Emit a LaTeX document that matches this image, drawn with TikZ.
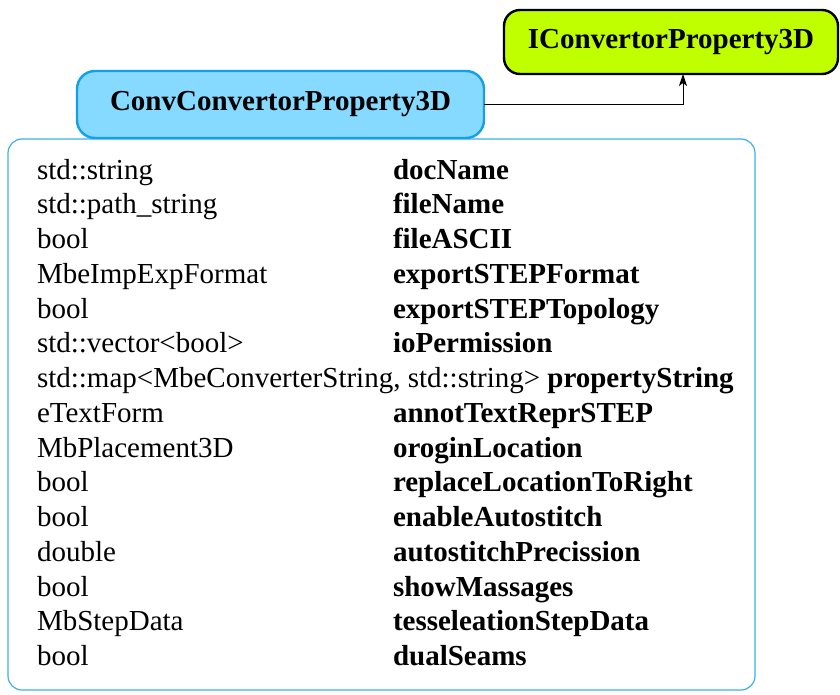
\documentclass[tikz,border=0pt]{standalone}
\usepackage{fontspec}
\setmainfont{Liberation Serif}
\usetikzlibrary{arrows.meta}
\definecolor{convfill}{RGB}{135,218,255}
\definecolor{convline}{RGB}{20,160,230}
\definecolor{ifill}{RGB}{191,255,0}
\definecolor{bodyline}{RGB}{60,176,232}
\begin{document}
\begin{tikzpicture}[x=1pt,y=-1pt,
  every node/.style={inner sep=0pt,outer sep=0pt,font=\fontsize{29}{34.75}\selectfont},
  classbox/.style={draw=convline,fill=convfill,line width=2.4pt,rounded corners=18pt,
    minimum width=407pt,minimum height=67pt,font=\fontsize{29}{34.75}\selectfont\bfseries},
  ifacebox/.style={draw=black,fill=ifill,line width=2.4pt,rounded corners=16pt,
    minimum width=334pt,minimum height=64pt,font=\fontsize{29}{34.75}\selectfont\bfseries},
  bodybox/.style={draw=bodyline,line width=1.2pt,rounded corners=14pt,
    minimum width=747pt,minimum height=551pt},
  typ/.style={anchor=base west},
  fld/.style={anchor=base west,font=\fontsize{29}{34.75}\selectfont\bfseries},
  link/.style={draw=black,line width=0.9pt,-{Stealth[length=12pt,width=8pt,inset=3pt]}}]
\useasboundingbox (0,0) rectangle (840,695);
\node[bodybox] (body) at (381.5,414.5) {};
\node[classbox] (conv) at (280.5,104.5) {ConvConvertorProperty3D};
\node[ifacebox] (iconv) at (671,42) {IConvertorProperty3D};
\draw[link] (conv.east) -| ([xshift=12pt]iconv.south);
\foreach \t/\f [count=\i from 0] in {
  std::string/docName,
  std::path\_string/fileName,
  bool/fileASCII,
  MbeImpExpFormat/exportSTEPFormat,
  bool/exportSTEPTopology,
  std::vector<bool>/ioPermission,
  {}/{},
  eTextForm/annotTextReprSTEP,
  MbPlacement3D/oroginLocation,
  bool/replaceLocationToRight,
  bool/enableAutostitch,
  double/autostitchPrecission,
  bool/showMassages,
  MbStepData/tesseleationStepData,
  bool/dualSeams}{
  \ifnum\i=6\else
  \node[typ] (t\i) at (37,{179+34.75*\i}) {\t};
  \node[fld] (f\i) at (393,{179+34.75*\i}) {\f};
  \fi
}
\node[typ] (t6) at (37,{179+34.75*6}) {std::map<MbeConverterString, std::string> \textbf{propertyString}};
\end{tikzpicture}
\end{document}
